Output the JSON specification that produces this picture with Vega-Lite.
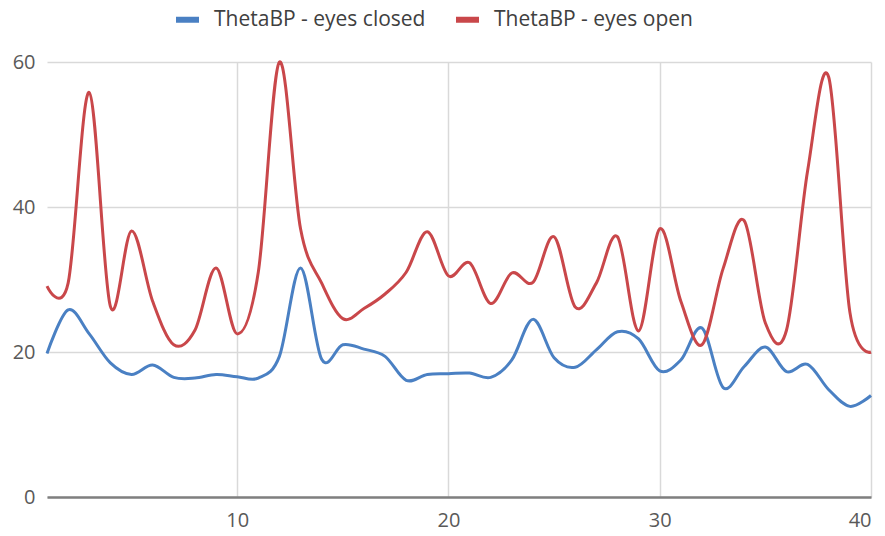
{
  "$schema": "https://vega.github.io/schema/vega-lite/v6.json",
  "autosize": {"type": "none"},
  "width": 824,
  "height": 435,
  "padding": {"left": 47, "top": 62, "right": 14, "bottom": 39},
  "background": "white",
  "config": {
    "font": "Open Sans",
    "view": {"stroke": null},
    "axis": {"labelFont": "Open Sans", "labelColor": "#595959", "labelFontSize": 20, "gridColor": "#d9d9d9", "gridWidth": 1.5, "ticks": false, "title": null}
  },
  "data": {
    "values": [
      {"x": 1, "ThetaBP - eyes closed": 19.8, "ThetaBP - eyes open": 29.1},
      {"x": 2, "ThetaBP - eyes closed": 25.8, "ThetaBP - eyes open": 29.5},
      {"x": 3, "ThetaBP - eyes closed": 22.5, "ThetaBP - eyes open": 55.8},
      {"x": 4, "ThetaBP - eyes closed": 18.5, "ThetaBP - eyes open": 26.3},
      {"x": 5, "ThetaBP - eyes closed": 16.9, "ThetaBP - eyes open": 36.7},
      {"x": 6, "ThetaBP - eyes closed": 18.2, "ThetaBP - eyes open": 27.0},
      {"x": 7, "ThetaBP - eyes closed": 16.5, "ThetaBP - eyes open": 21.0},
      {"x": 8, "ThetaBP - eyes closed": 16.4, "ThetaBP - eyes open": 23.0},
      {"x": 9, "ThetaBP - eyes closed": 16.9, "ThetaBP - eyes open": 31.6},
      {"x": 10, "ThetaBP - eyes closed": 16.6, "ThetaBP - eyes open": 22.5},
      {"x": 11, "ThetaBP - eyes closed": 16.4, "ThetaBP - eyes open": 31.0},
      {"x": 12, "ThetaBP - eyes closed": 19.4, "ThetaBP - eyes open": 60.0},
      {"x": 13, "ThetaBP - eyes closed": 31.6, "ThetaBP - eyes open": 37.0},
      {"x": 14, "ThetaBP - eyes closed": 19.0, "ThetaBP - eyes open": 29.5},
      {"x": 15, "ThetaBP - eyes closed": 21.0, "ThetaBP - eyes open": 24.6},
      {"x": 16, "ThetaBP - eyes closed": 20.4, "ThetaBP - eyes open": 26.0},
      {"x": 17, "ThetaBP - eyes closed": 19.4, "ThetaBP - eyes open": 28.0},
      {"x": 18, "ThetaBP - eyes closed": 16.1, "ThetaBP - eyes open": 31.0},
      {"x": 19, "ThetaBP - eyes closed": 16.9, "ThetaBP - eyes open": 36.6},
      {"x": 20, "ThetaBP - eyes closed": 17.0, "ThetaBP - eyes open": 30.5},
      {"x": 21, "ThetaBP - eyes closed": 17.1, "ThetaBP - eyes open": 32.3},
      {"x": 22, "ThetaBP - eyes closed": 16.5, "ThetaBP - eyes open": 26.7},
      {"x": 23, "ThetaBP - eyes closed": 18.9, "ThetaBP - eyes open": 30.9},
      {"x": 24, "ThetaBP - eyes closed": 24.5, "ThetaBP - eyes open": 29.6},
      {"x": 25, "ThetaBP - eyes closed": 19.2, "ThetaBP - eyes open": 35.9},
      {"x": 26, "ThetaBP - eyes closed": 17.9, "ThetaBP - eyes open": 26.2},
      {"x": 27, "ThetaBP - eyes closed": 20.3, "ThetaBP - eyes open": 29.5},
      {"x": 28, "ThetaBP - eyes closed": 22.8, "ThetaBP - eyes open": 35.9},
      {"x": 29, "ThetaBP - eyes closed": 21.8, "ThetaBP - eyes open": 22.9},
      {"x": 30, "ThetaBP - eyes closed": 17.4, "ThetaBP - eyes open": 37.0},
      {"x": 31, "ThetaBP - eyes closed": 18.9, "ThetaBP - eyes open": 27.0},
      {"x": 32, "ThetaBP - eyes closed": 23.3, "ThetaBP - eyes open": 21.0},
      {"x": 33, "ThetaBP - eyes closed": 15.1, "ThetaBP - eyes open": 31.5},
      {"x": 34, "ThetaBP - eyes closed": 18.0, "ThetaBP - eyes open": 38.1},
      {"x": 35, "ThetaBP - eyes closed": 20.7, "ThetaBP - eyes open": 24.0},
      {"x": 36, "ThetaBP - eyes closed": 17.3, "ThetaBP - eyes open": 23.0},
      {"x": 37, "ThetaBP - eyes closed": 18.3, "ThetaBP - eyes open": 45.0},
      {"x": 38, "ThetaBP - eyes closed": 14.8, "ThetaBP - eyes open": 57.9},
      {"x": 39, "ThetaBP - eyes closed": 12.5, "ThetaBP - eyes open": 25.5},
      {"x": 40, "ThetaBP - eyes closed": 14.0, "ThetaBP - eyes open": 20.0}
    ]
  },
  "transform": [
    {"fold": ["ThetaBP - eyes closed", "ThetaBP - eyes open"], "as": ["series", "value"]}
  ],
  "mark": {"type": "line", "interpolate": "cardinal", "tension": 0, "strokeWidth": 3},
  "encoding": {
    "x": {
      "field": "x", "type": "quantitative",
      "scale": {"domain": [1, 40], "nice": false, "zero": false},
      "axis": {"values": [10, 20, 30, 40], "domain": true, "domainColor": "#7f7f7f", "domainWidth": 2.5, "labelPadding": 13, "grid": true}
    },
    "y": {
      "field": "value", "type": "quantitative",
      "scale": {"domain": [0, 60], "nice": false},
      "axis": {"values": [0, 20, 40, 60], "domain": false, "labelPadding": 12, "grid": true}
    },
    "color": {
      "field": "series", "type": "nominal",
      "scale": {"domain": ["ThetaBP - eyes closed", "ThetaBP - eyes open"], "range": ["#4a80c3", "#c9474a"]},
      "legend": {
        "title": null, "orient": "none", "direction": "horizontal",
        "legendX": 126, "legendY": -57,
        "symbolType": "stroke", "symbolSize": 529, "symbolStrokeWidth": 6,
        "labelFont": "Open Sans", "labelFontSize": 21, "labelColor": "#404040", "labelLimit": 400,
        "labelOffset": 12, "columnPadding": 18
      }
    }
  }
}
